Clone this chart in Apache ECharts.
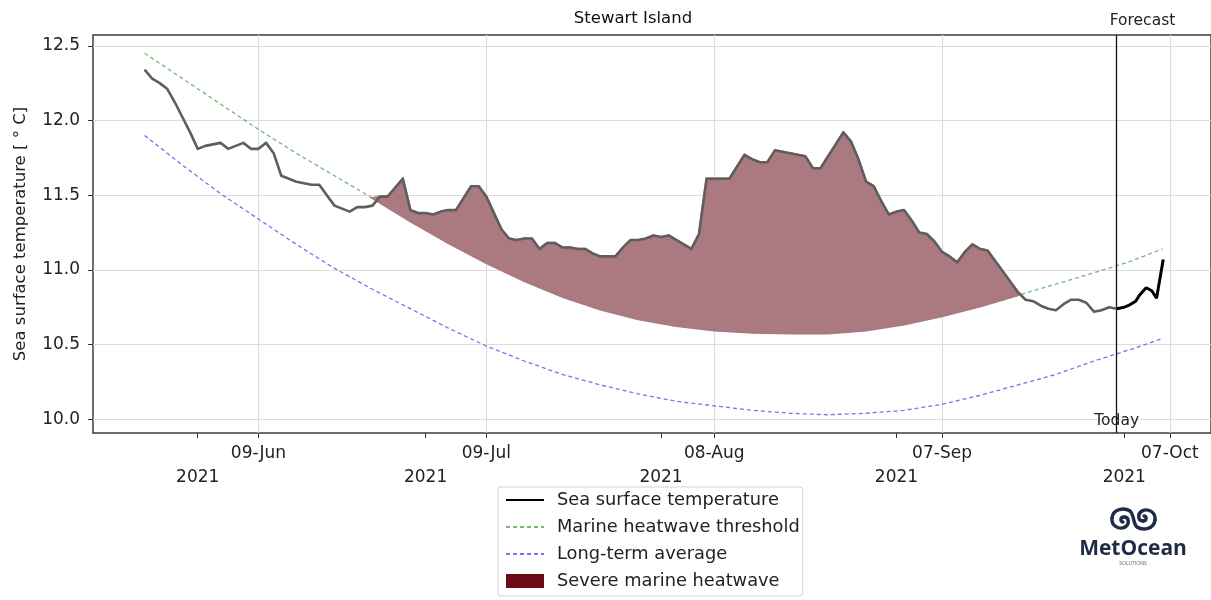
<!DOCTYPE html>
<html>
<head>
<meta charset="utf-8">
<script src="https://cdn.jsdelivr.net/npm/echarts@6/dist/echarts.min.js"></script>
<style>
  html, body { margin: 0; padding: 0; background: #fff; }
  #chart { width: 1211px; height: 600px; }
</style>
</head>
<body>
<div id="chart"></div>
<script>
// Observed daily sea surface temperature (°C), one value per day starting at sstStart
const sstStart = '2021-05-25';
const sstObserved = [
  12.34, 12.28, 12.25, 12.21, 12.12, 12.02, 11.92, 11.81, 11.83, 11.84,
  11.85, 11.81, 11.83, 11.85, 11.81, 11.81, 11.85, 11.78, 11.63, 11.61,
  11.59, 11.58, 11.57, 11.57, 11.50, 11.43, 11.41, 11.39, 11.42, 11.42,
  11.43, 11.49, 11.49, 11.55, 11.61, 11.40, 11.38, 11.38, 11.37, 11.39,
  11.40, 11.40, 11.48, 11.56, 11.56, 11.49, 11.38, 11.27, 11.21, 11.20,
  11.21, 11.21, 11.14, 11.18, 11.18, 11.15, 11.15, 11.14, 11.14, 11.11,
  11.09, 11.09, 11.09, 11.15, 11.20, 11.20, 11.21, 11.23, 11.22, 11.23,
  11.20, 11.17, 11.14, 11.24, 11.61, 11.61, 11.61, 11.61, 11.69, 11.77,
  11.74, 11.72, 11.72, 11.80, 11.79, 11.78, 11.77, 11.76, 11.68, 11.68,
  11.76, 11.84, 11.92, 11.86, 11.74, 11.59, 11.56, 11.46, 11.37, 11.39,
  11.40, 11.33, 11.25, 11.24, 11.19, 11.12, 11.09, 11.05, 11.12, 11.17,
  11.14, 11.13, 11.06, 10.99, 10.92, 10.85, 10.80, 10.79, 10.76, 10.74,
  10.73, 10.77, 10.80, 10.80, 10.78, 10.72, 10.73, 10.75, 10.74
];

// Forecast run starting today
const today = '2021-09-30';
const forecastTimes = [
  '2021-09-30 00:00', '2021-10-01 00:00', '2021-10-01 12:00', '2021-10-02 12:00',
  '2021-10-03 00:00', '2021-10-03 21:00', '2021-10-04 15:00', '2021-10-05 06:00',
  '2021-10-06 03:00'
];
const forecastValues = [10.74, 10.75, 10.76, 10.79, 10.83, 10.88, 10.86, 10.81, 11.07];

// Climatology: marine heatwave threshold and long-term average, sampled at
// climDays (days after climStart)
const climStart = '2021-05-25';
const climDays = [0, 5, 10, 15, 20, 25, 30, 35, 40, 45, 50, 55, 60, 65, 70, 75, 80,
                  85, 90, 95, 100, 105, 110, 115, 120, 125, 130, 134];
const thresholdValues = [12.45, 12.28, 12.11, 11.94, 11.78, 11.63, 11.48, 11.325, 11.18, 11.045,
                         10.925, 10.82, 10.735, 10.67, 10.625, 10.595, 10.58, 10.575, 10.575, 10.595,
                         10.635, 10.69, 10.755, 10.83, 10.905, 10.98, 11.06, 11.14];
const averageValues = [11.90, 11.70, 11.51, 11.34, 11.17, 11.01, 10.87, 10.74, 10.61, 10.49,
                       10.39, 10.30, 10.23, 10.17, 10.12, 10.09, 10.06, 10.04, 10.03, 10.04,
                       10.06, 10.10, 10.16, 10.23, 10.30, 10.39, 10.47, 10.54];

// Period in which the temperature sits above the threshold
const heatwaveStart = '2021-06-25';
const heatwaveEnd = '2021-09-17';

// Axis ticks
const dateTicks = ['2021-06-09', '2021-07-09', '2021-08-08', '2021-09-07', '2021-10-07'];
const yearTicks = ['2021-06-01', '2021-07-01', '2021-08-01', '2021-09-01', '2021-10-01'];
const yTicks = [10.0, 10.5, 11.0, 11.5, 12.0, 12.5];
const xRange = ['2021-05-18 05:00', '2021-10-12 10:00'];
const yRange = [9.908, 12.572];

const FONT = '"DejaVu Sans", sans-serif';
const DAY = 86400000;
const MONTHS = ['Jan', 'Feb', 'Mar', 'Apr', 'May', 'Jun', 'Jul', 'Aug', 'Sep', 'Oct', 'Nov', 'Dec'];
const ts = s => {
  const [d, h] = s.split(' ');
  return Date.parse(d + 'T' + (h || '00:00') + ':00Z');
};
const fmtDay = v => {
  const d = new Date(v);
  return String(d.getUTCDate()).padStart(2, '0') + '-' + MONTHS[d.getUTCMonth()];
};
const fmtYear = v => String(new Date(v).getUTCFullYear());

const observed = sstObserved.map((v, i) => [ts(sstStart) + i * DAY, v]);
const forecast = forecastTimes.map((s, i) => [ts(s), forecastValues[i]]);
const threshold = climDays.map((k, i) => [ts(climStart) + k * DAY, thresholdValues[i]]);
const average = climDays.map((k, i) => [ts(climStart) + k * DAY, averageValues[i]]);

// Heatwave shape: temperature on top, threshold underneath
const hwFrom = ts(heatwaveStart), hwTo = ts(heatwaveEnd);
const hwTop = observed.filter(p => p[0] >= hwFrom && p[0] <= hwTo);
const hwBottom = threshold.filter(p => p[0] >= hwFrom - DAY && p[0] <= hwTo).reverse();
const hwShape = hwTop.concat(hwBottom);

const HW_FILL = '#ab7980';
const chart = echarts.init(document.getElementById('chart'));

const tickText = { fontFamily: FONT, fontSize: 17, color: '#222' };
const lineOnly = { opacity: 0 };   // legend shows the bare line, no marker

chart.setOption({
  animation: false,
  backgroundColor: '#fff',
  title: {
    text: 'Stewart Island',
    left: 633, top: 10, padding: 0, textAlign: 'center',
    textStyle: { fontFamily: FONT, fontSize: 16.5, fontWeight: 'normal', color: '#111' }
  },
  grid: {
    left: 93, right: 0, top: 35, bottom: 167,
    show: true, borderColor: '#3c3c3c', borderWidth: 1.5, backgroundColor: 'transparent'
  },
  legend: {
    orient: 'vertical',
    left: 498, top: 487, height: 140,
    padding: [3, 3, 5, 7],
    itemWidth: 38, itemHeight: 14, itemGap: 7,
    borderColor: '#d2d2d2', borderWidth: 1, borderRadius: 3,
    backgroundColor: '#fff',
    textStyle: { fontFamily: FONT, fontSize: 17.8, lineHeight: 20, color: '#222', padding: [0, 0, 0, 8] },
    data: [
      { name: 'Sea surface temperature', itemStyle: lineOnly },
      { name: 'Marine heatwave threshold', itemStyle: lineOnly },
      { name: 'Long-term average', itemStyle: lineOnly },
      { name: 'Severe marine heatwave', icon: 'rect' }
    ],
    selectedMode: false
  },
  xAxis: [
    {
      type: 'value', min: ts(xRange[0]), max: ts(xRange[1]),
      axisLine: { show: false },
      axisTick: { show: true, length: 5, customValues: dateTicks.map(ts), lineStyle: { color: '#333' } },
      axisLabel: { customValues: dateTicks.map(ts), formatter: fmtDay, margin: 12, ...tickText },
      splitLine: { show: true, lineStyle: { color: '#dcdcdc', width: 1.2 } }
    },
    {
      type: 'value', min: ts(xRange[0]), max: ts(xRange[1]), position: 'bottom', offset: 0,
      axisLine: { show: false },
      axisTick: { show: true, length: 5, customValues: yearTicks.map(ts), lineStyle: { color: '#333' } },
      axisLabel: { customValues: yearTicks.map(ts), formatter: fmtYear, margin: 36, ...tickText },
      splitLine: { show: false }
    }
  ],
  yAxis: {
    type: 'value', min: yRange[0], max: yRange[1],
    name: 'Sea surface temperature [ ° C]',
    nameLocation: 'middle', nameGap: 64, nameRotate: 90,
    nameTextStyle: { fontFamily: FONT, fontSize: 16.5, color: '#222' },
    axisLine: { show: false },
    axisTick: { show: true, length: 5, customValues: yTicks, lineStyle: { color: '#333' } },
    axisLabel: { customValues: yTicks, formatter: v => v.toFixed(1), margin: 13, ...tickText },
    splitLine: { show: true, lineStyle: { color: '#dcdcdc', width: 1.2 } }
  },
  series: [
    {
      name: 'Sea surface temperature', type: 'line', data: forecast,
      symbol: 'none', z: 6,
      lineStyle: { color: '#000', width: 3 }, itemStyle: { color: '#000' },
      markLine: {
        symbol: 'none', silent: true, label: { show: false },
        lineStyle: { color: '#111', width: 1.3, type: 'solid' },
        data: [{ xAxis: ts(today) }]
      }
    },
    {
      name: 'Marine heatwave threshold', type: 'line', data: threshold,
      symbol: 'none', z: 2,
      lineStyle: { color: '#74b874', width: 1.3, type: [4, 3] }, itemStyle: { color: '#74b874' }
    },
    {
      name: 'Long-term average', type: 'line', data: average,
      symbol: 'none', z: 2,
      lineStyle: { color: '#7373ee', width: 1.3, type: [4, 3] }, itemStyle: { color: '#7373ee' }
    },
    {
      name: 'Severe marine heatwave', type: 'custom', coordinateSystem: 'cartesian2d',
      data: [hwShape[0]], encode: { x: 0, y: 1 }, z: 3, silent: true,
      itemStyle: { color: '#6e0a14' },
      renderItem: (params, api) => ({
        type: 'polygon',
        shape: { points: hwShape.map(p => api.coord(p)) },
        style: { fill: HW_FILL, stroke: HW_FILL, lineWidth: 2.2 }
      })
    },
    {
      name: 'Sea surface temperature', type: 'line', data: observed,
      symbol: 'none', z: 5,
      lineStyle: { color: '#5e5e5e', width: 2.6, join: 'round' }, itemStyle: { color: '#5e5e5e' }
    }
  ]
});

// Annotations at today's marker
const xToday = chart.convertToPixel({ xAxisIndex: 0 }, ts(today));

// MetOcean logo: two interlocking swirls drawn as cubic curves
const NAVY = '#1f2b47';
const swirlCurves = [
  [20, 3, 14, -1, 3, 1, 2, 10], [2, 10, 1, 18, 9, 22, 15, 19],
  [15, 19, 20, 16, 19, 9, 14, 9], [14, 9, 10, 9, 10, 14, 13, 14],
  [27, 19, 33, 23, 44, 21, 45, 12], [45, 12, 46, 4, 38, 0, 32, 3],
  [32, 3, 27, 6, 28, 13, 33, 13], [33, 13, 37, 13, 37, 8, 34, 8],
  [20, 3, 24, 6, 23, 16, 27, 19]
];
const swirlEls = swirlCurves.map(c => ({
  type: 'bezierCurve',
  shape: { x1: c[0], y1: c[1], cpx1: c[2], cpy1: c[3], cpx2: c[4], cpy2: c[5], x2: c[6], y2: c[7] },
  style: { stroke: NAVY, lineWidth: 3.4, fill: null, lineCap: 'round' }
}));

chart.setOption({
  graphic: [
    { id: 'forecast', type: 'text', x: xToday - 7, y: 21,
      style: { text: 'Forecast', fontFamily: FONT, fontSize: 15.5, fill: '#222', align: 'left', verticalAlign: 'middle' } },
    { id: 'today', type: 'text', x: xToday, y: 421,
      style: { text: 'Today', fontFamily: FONT, fontSize: 15.5, fill: '#222', align: 'center', verticalAlign: 'middle' } },
    { id: 'logoIcon', type: 'group', x: 1110, y: 508, children: swirlEls },
    { id: 'logoText', type: 'text', x: 1133, y: 549,
      style: { text: 'MetOcean', fontFamily: '"Open Sans", sans-serif', fontWeight: 'bold', fontSize: 21, fill: NAVY, align: 'center', verticalAlign: 'middle' } },
    { id: 'logoSub', type: 'text', x: 1133, y: 564,
      style: { text: 'SOLUTIONS', fontFamily: '"Open Sans", sans-serif', fontSize: 5, fill: '#55607a', align: 'center', verticalAlign: 'middle' } }
  ]
});
</script>
</body>
</html>
